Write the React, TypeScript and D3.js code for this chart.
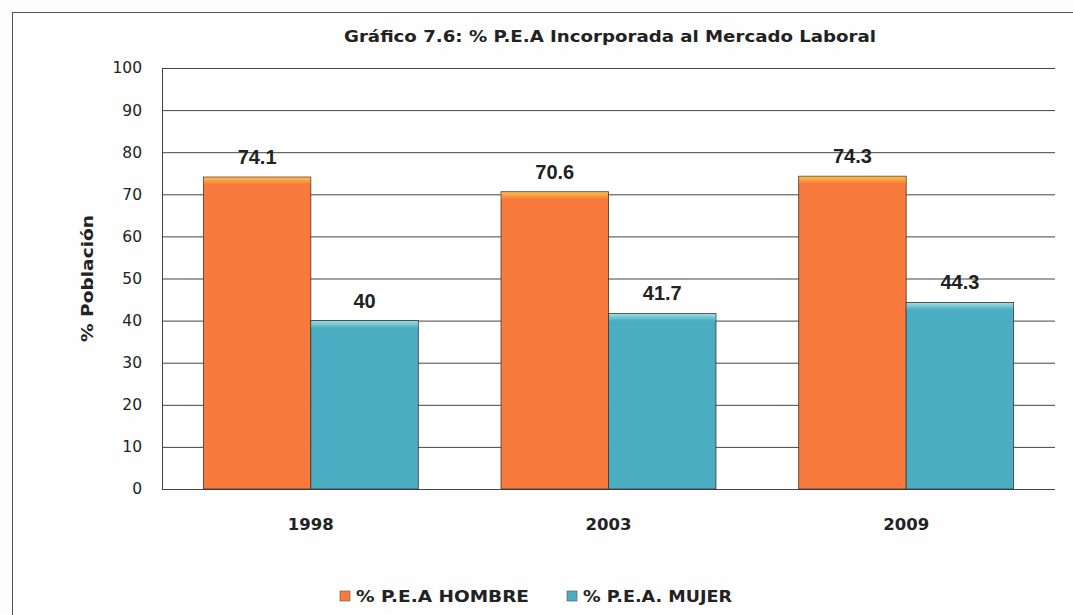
import * as React from 'react';
import * as d3 from 'd3';

const categories = ['1998', '2003', '2009'];
const seriesNames = ['% P.E.A HOMBRE', '% P.E.A. MUJER'];
const hombre = [74.1, 70.6, 74.3];
const mujer = [40, 41.7, 44.3];
const yTicks = [0, 10, 20, 30, 40, 50, 60, 70, 80, 90, 100];

const colors = ['#F87A3C', '#4BADC1'];
const topColors = ['#F7C04E', '#9ADCE6'];
const fontFamily = '"DejaVu Sans", sans-serif';

export default function App() {
    const width = 1073;
    const height = 615;
    const left = 162, right = 1055, top = 68, bottom = 489;

    const x0 = d3.scaleBand<string>().domain(categories).range([left, right]);
    const x1 = d3.scaleBand<string>()
        .domain(seriesNames)
        .range([0, x0.bandwidth()])
        .paddingInner(0)
        .paddingOuter(0.385);
    const y = d3.scaleLinear().domain([0, 100]).range([bottom, top]);

    const values = [hombre, mujer];
    const legendX = [340, 567];
    const legendLen = [173, 149];

    return (
        <svg width={width} height={height} style={{ position: 'fixed', left: 0, top: 0, background: '#fdfdfd' }}>
            <defs>
                {colors.map((c, i) => (
                    <linearGradient key={i} id={'bev' + i} x1="0" y1="0" x2="0" y2="1">
                        <stop offset="0" stopColor={topColors[i]} />
                        <stop offset="1" stopColor={c} />
                    </linearGradient>
                ))}
            </defs>
            <rect x={12.5} y={12.5} width={1100} height={700} fill="#fefefe" stroke="#555" strokeWidth={1} />
            <rect x={left} y={top} width={right - left} height={bottom - top} fill="#fff" />

            <text x={610} y={42} textAnchor="middle" fontFamily={fontFamily} fontWeight="bold" fontSize={16} fill="#222"
                textLength={532} lengthAdjust="spacingAndGlyphs">
                Gráfico 7.6: % P.E.A Incorporada al Mercado Laboral
            </text>

            {yTicks.map(t => (
                <g key={t}>
                    <line x1={left} x2={right} y1={y(t) + 0.5} y2={y(t) + 0.5} stroke="#444" strokeWidth={1} />
                    <text x={142} y={y(t)} dy="0.35em" textAnchor="end" fontFamily={fontFamily} fontSize={15.5} fill="#222">{t}</text>
                </g>
            ))}
            <line x1={left + 0.5} x2={left + 0.5} y1={top} y2={bottom + 1} stroke="#444" strokeWidth={1} />

            {categories.map((c, ci) => (
                <g key={c} transform={`translate(${x0(c)},0)`}>
                    {seriesNames.map((s, si) => {
                        const v = values[si][ci];
                        const bx = x1(s)!;
                        const bw = x1.bandwidth();
                        const by = y(v);
                        return (
                            <g key={s}>
                                <rect x={bx} y={by} width={bw} height={bottom - by} fill={colors[si]} stroke="#3d3430" strokeWidth={0.8} />
                                <rect x={bx + 0.5} y={by + 0.5} width={bw - 1} height={7} fill={`url(#bev${si})`} />
                                <text x={bx + bw / 2} y={by - 13} textAnchor="middle" fontFamily='"Liberation Sans", Arial, sans-serif' fontWeight="bold" fontSize={20} fill="#222">{v}</text>
                            </g>
                        );
                    })}
                    <text x={x0.bandwidth() / 2} y={524} dy="0.35em" textAnchor="middle" fontFamily={fontFamily} fontWeight="bold" fontSize={16.5} fill="#222">{c}</text>
                </g>
            ))}

            <text transform={`translate(93,${(top + bottom) / 2}) rotate(-90)`} textAnchor="middle" fontFamily={fontFamily} fontWeight="bold" fontSize={16} fill="#222"
                textLength={127} lengthAdjust="spacingAndGlyphs">% Población</text>

            {seriesNames.map((s, si) => (
                <g key={s}>
                    <rect x={legendX[si]} y={591} width={10} height={10} fill={colors[si]} stroke="#555" strokeWidth={0.6} />
                    <text x={legendX[si] + 16} y={596} dy="0.35em" fontFamily={fontFamily} fontWeight="bold" fontSize={16} fill="#222"
                        textLength={legendLen[si]} lengthAdjust="spacingAndGlyphs">{s}</text>
                </g>
            ))}
        </svg>
    );
}
